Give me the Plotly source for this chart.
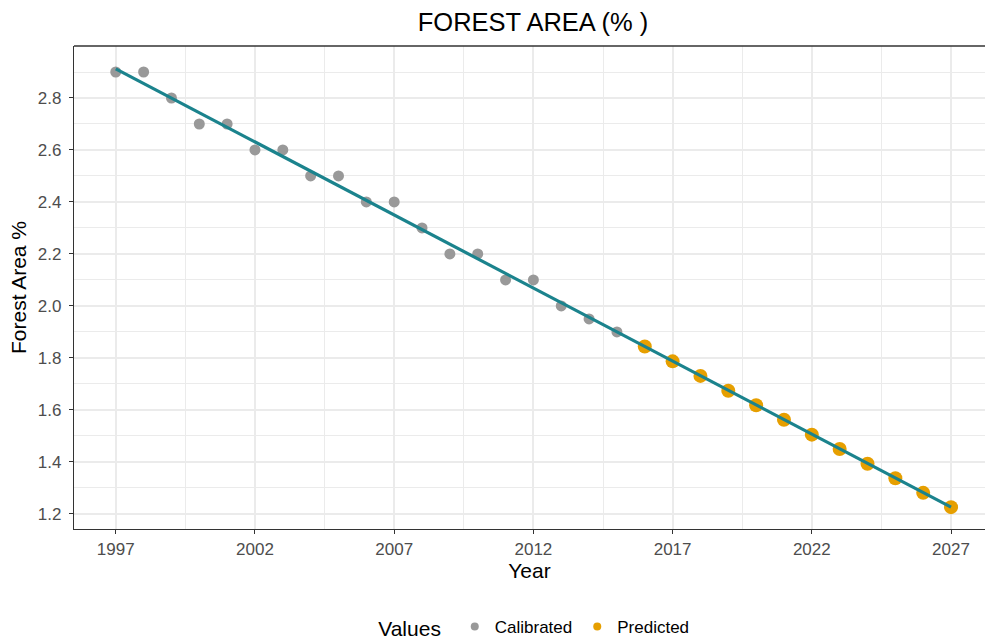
import plotly.graph_objects as go

# Observed (calibration) period
cal_years = list(range(1997, 2016))
cal_values = [2.9, 2.9, 2.8, 2.7, 2.7, 2.6, 2.6, 2.5, 2.5, 2.4, 2.4, 2.3,
              2.2, 2.2, 2.1, 2.1, 2.0, 1.95, 1.9]

# Projected period
pred_years = list(range(2016, 2028))
pred_values = [1.844, 1.787, 1.731, 1.674, 1.618, 1.562, 1.505, 1.450,
               1.393, 1.337, 1.281, 1.226]

# Linear trend line end points
trend_years = [1997, 2027]
trend_values = [2.912, 1.226]

x_ticks = [1997, 2002, 2007, 2012, 2017, 2022, 2027]
y_ticks = [1.2, 1.4, 1.6, 1.8, 2.0, 2.2, 2.4, 2.6, 2.8]

FONT = "Liberation Sans"
GRID = "#EBEBEB"
AXIS = "#333333"
CAL_COLOR = "#999999"
PRED_COLOR = "#E69F00"

TICK_SIZE = 17
AXIS_TITLE_SIZE = 21
PLOT_TITLE_SIZE = 25.5

fig = go.Figure()

fig.add_trace(go.Scatter(
    x=cal_years, y=cal_values, mode="markers", name="Calibrated",
    marker=dict(color=CAL_COLOR, size=11, line=dict(width=0)),
    showlegend=False,
))
fig.add_trace(go.Scatter(
    x=pred_years, y=pred_values, mode="markers", name="Predicted",
    marker=dict(color=PRED_COLOR, size=14, line=dict(width=0)),
    showlegend=False,
))
fig.add_trace(go.Scatter(
    x=trend_years, y=trend_values, mode="lines", showlegend=False,
    line=dict(color="#1B838D", width=3.2), hoverinfo="skip",
))

# Legend keys with small symbols
for name, color in [("Calibrated", CAL_COLOR), ("Predicted", PRED_COLOR)]:
    fig.add_trace(go.Scatter(
        x=[None], y=[None], mode="markers", name=name,
        marker=dict(color=color, size=8, line=dict(width=0)),
    ))

fig.update_layout(
    width=985, height=642,
    margin=dict(l=73.5, r=0, t=46, b=113, autoexpand=False),
    paper_bgcolor="white", plot_bgcolor="white",
    font=dict(family=FONT, color="black"),
    title=dict(text="FOREST AREA (% )", x=533 / 985, xanchor="center",
               y=1 - 22 / 642, yanchor="middle",
               font=dict(size=PLOT_TITLE_SIZE, color="black", family=FONT)),
    xaxis=dict(
        range=[1995.5, 2028.22], tickvals=x_ticks,
        ticktext=[str(v) for v in x_ticks],
        showgrid=True, gridcolor=GRID, gridwidth=2,
        minor=dict(dtick=2.5, tick0=1999.5, showgrid=True, gridcolor=GRID,
                   gridwidth=1, ticks=""),
        ticks="outside", ticklen=4, tickwidth=1.2, tickcolor=AXIS,
        ticklabelstandoff=0,
        tickfont=dict(size=TICK_SIZE, color="#4D4D4D", family=FONT),
        showline=True, linecolor=AXIS, linewidth=1.3, zeroline=False,
        title=dict(text="Year",
                   font=dict(size=AXIS_TITLE_SIZE, color="black", family=FONT),
                   standoff=5),
    ),
    yaxis=dict(
        range=[1.142, 3.0], tickvals=y_ticks,
        ticktext=[f"{v:.1f}" for v in y_ticks],
        showgrid=True, gridcolor=GRID, gridwidth=2,
        minor=dict(dtick=0.2, tick0=1.1, showgrid=True, gridcolor=GRID,
                   gridwidth=1, ticks=""),
        ticks="outside", ticklen=4, tickwidth=1.2, tickcolor=AXIS,
        ticklabelstandoff=4,
        tickfont=dict(size=TICK_SIZE, color="#4D4D4D", family=FONT),
        showline=True, linecolor=AXIS, linewidth=1.3, zeroline=False,
        title=dict(text="Forest Area %",
                   font=dict(size=AXIS_TITLE_SIZE, color="black", family=FONT),
                   standoff=5),
    ),
    legend=dict(
        orientation="h", x=(535 - 73.5) / 911.5, xanchor="center",
        y=-(628 - 529) / 483, yanchor="middle",
        title=dict(text="Values ",
                   font=dict(size=AXIS_TITLE_SIZE, color="black", family=FONT),
                   side="left"),
        font=dict(size=TICK_SIZE, color="black", family=FONT),
        itemsizing="trace", itemwidth=30, traceorder="normal",
    ),
    shapes=[dict(type="line", xref="paper", yref="paper", x0=0, x1=1, y0=1, y1=1,
                 line=dict(color=AXIS, width=1.3))],
)

fig.write_html("out.html")
